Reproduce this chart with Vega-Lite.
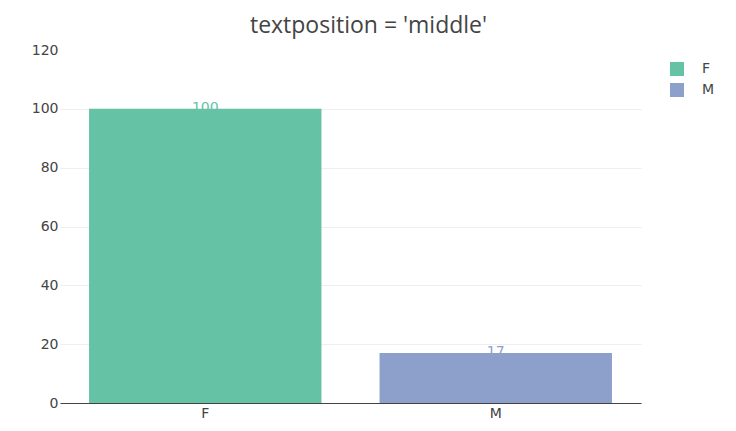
{
  "$schema": "https://vega.github.io/schema/vega-lite/v6.json",
  "width": 581,
  "height": 353,
  "autosize": {"type": "none"},
  "padding": {"left": 60, "top": 50, "right": 95, "bottom": 28},
  "background": "white",
  "config": {
    "font": "DejaVu Sans",
    "view": {"stroke": null}
  },
  "title": {
    "text": "textposition = 'middle'",
    "fontSize": 23,
    "font": "Open Sans",
    "fontWeight": "normal",
    "color": "#444",
    "anchor": "middle",
    "dx": 18,
    "offset": 5
  },
  "data": {
    "values": [
      {"sex": "F", "count": 100},
      {"sex": "M", "count": 17}
    ]
  },
  "encoding": {
    "x": {
      "field": "sex",
      "type": "nominal",
      "scale": {"paddingInner": 0.2, "paddingOuter": 0.1},
      "axis": {
        "title": null,
        "labelAngle": 0,
        "labelColor": "#444",
        "labelFontSize": 14,
        "labelPadding": 3,
        "domainColor": "#444",
        "domainWidth": 1,
        "ticks": false,
        "grid": false
      }
    },
    "y": {
      "field": "count",
      "type": "quantitative",
      "scale": {"domain": [0, 120], "nice": false},
      "axis": {
        "title": null,
        "values": [0, 20, 40, 60, 80, 100, 120],
        "labelColor": "#444",
        "labelFontSize": 14,
        "labelPadding": 2,
        "domain": false,
        "ticks": false,
        "gridColor": "#eee",
        "gridWidth": 1,
        "gridOpacity": {"condition": {"test": "datum.value == 120", "value": 0}, "value": 1}
      }
    },
    "color": {
      "field": "sex",
      "type": "nominal",
      "scale": {"domain": ["F", "M"], "range": ["#66c2a5", "#8da0cb"]},
      "legend": {
        "title": null,
        "orient": "none",
        "legendX": 610,
        "legendY": 12,
        "symbolType": "square",
        "symbolSize": 196,
        "symbolStrokeWidth": 0,
        "labelFont": "DejaVu Sans",
        "labelFontSize": 14,
        "labelColor": "#444",
        "labelOffset": 18,
        "rowPadding": 7
      }
    }
  },
  "layer": [
    {
      "mark": {"type": "text", "fontSize": 14, "baseline": "middle", "align": "center", "dy": -1},
      "encoding": {"text": {"field": "count", "type": "quantitative"}}
    },
    {
      "mark": {"type": "bar", "opacity": 1}
    }
  ]
}
